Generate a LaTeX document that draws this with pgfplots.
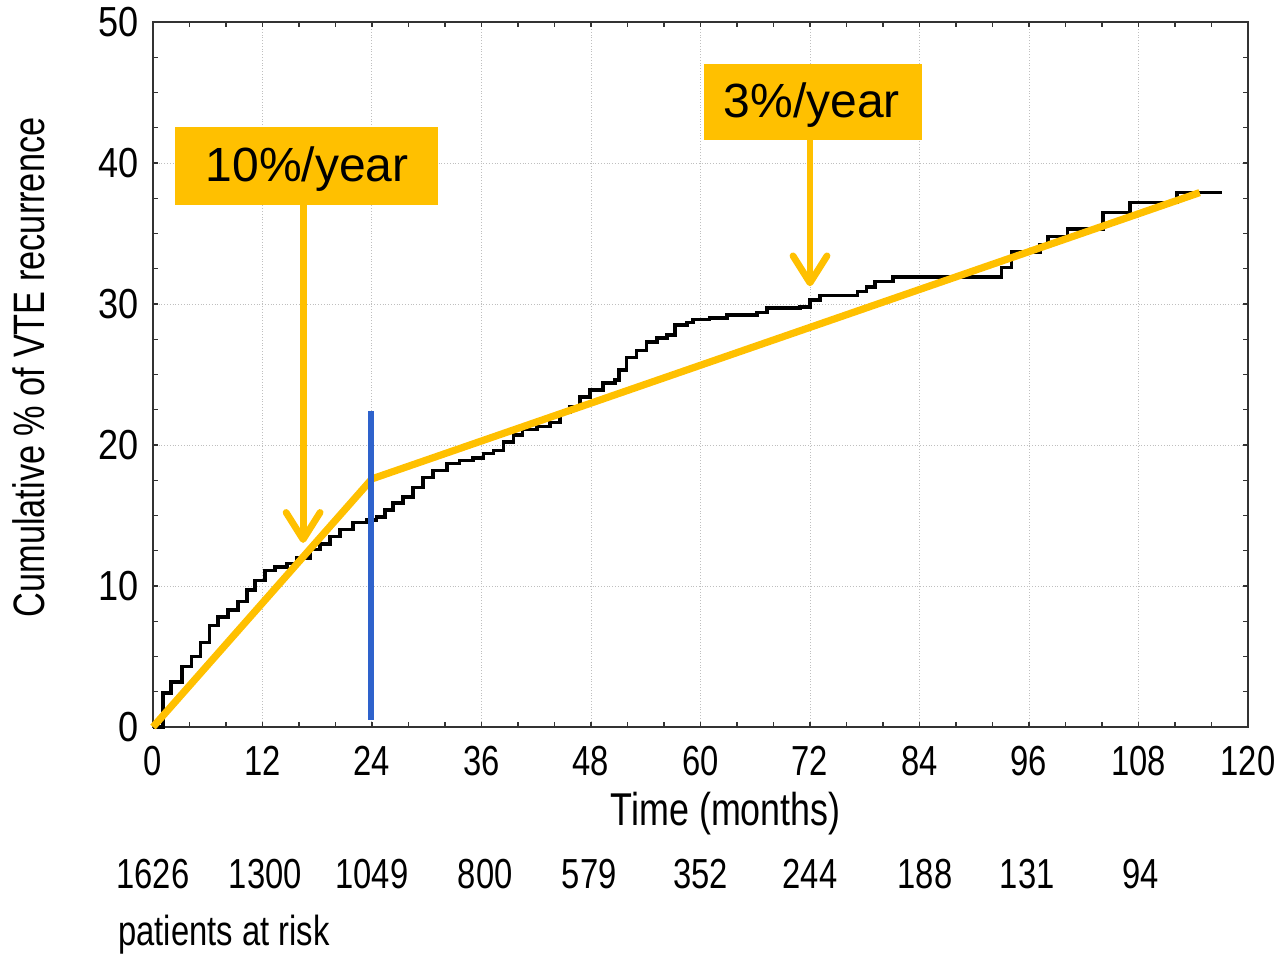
\documentclass[border=0pt]{standalone}
\usepackage{pgfplots}
\pgfplotsset{compat=1.18}
\usepackage{pgfplotstable}
\usepackage{fontspec}
\setmainfont[FakeStretch=0.78]{Liberation Sans}
\newfontfamily\boxfont{Liberation Sans}
\newfontfamily\yfont[FakeStretch=0.86]{Liberation Sans}
\definecolor{gold}{RGB}{255,192,0}
\definecolor{vblue}{RGB}{46,98,204}
\tikzset{riskstyle/.style={anchor=base, font=\fontsize{21}{24}\selectfont, yshift=-80.5pt}}

\pgfplotstableread{
m v
0 0
1.1 2.4
2.0 3.2
3.2 4.3
4.2 5.0
5.2 6.0
6.2 7.2
7.1 7.8
8.2 8.3
9.3 8.9
10.3 9.7
11.2 10.4
12.3 11.1
13.4 11.35
14.7 11.6
15.8 12.0
17.2 12.6
18.3 13.0
19.4 13.5
20.5 14.0
21.9 14.5
23.4 14.7
24.5 14.9
25.4 15.4
26.3 15.9
27.4 16.3
28.5 17.0
29.6 17.7
30.7 18.2
32.2 18.7
33.6 18.9
35.1 19.1
36.2 19.4
37.3 19.6
38.4 20.2
39.5 20.7
40.5 21.1
42.1 21.3
43.5 21.6
44.6 22.3
45.7 22.7
46.8 23.4
47.9 23.9
49.3 24.4
50.6 24.6
51.1 25.3
51.9 26.2
53.0 26.7
54.1 27.3
55.2 27.6
56.3 27.8
57.2 28.5
58.5 28.7
59.2 28.9
61.0 29.0
62.9 29.2
66.2 29.4
67.3 29.7
70.9 29.8
72.0 30.3
73.1 30.6
77.2 30.9
78.2 31.2
79.1 31.6
81.1 31.9
93.0 32.6
94.1 33.7
97.2 34.2
98.1 34.8
100.2 35.3
104.1 36.5
107.1 37.2
112.2 37.9
117.2 37.9
}\kmdata

\pgfplotstableread{
m v
0 0
24 17.6
114.7 37.9
}\fitdata

\begin{document}
\begin{tikzpicture}
\begin{axis}[
  width=547.5pt, height=352.5pt, scale only axis,
  xmin=0, xmax=120, ymin=0, ymax=50,
  xtick={0,12,...,120}, ytick={0,10,...,50},
  minor x tick num=2, minor y tick num=3,
  tick align=inside, major tick length=2.5pt, minor tick length=2.5pt,
  xtick pos=both, ytick pos=both,
  grid=major,
  major grid style={densely dotted, gray!50, line width=0.5pt},
  axis line style={line width=0.7pt, black!80},
  tick style={black!80, line width=0.6pt},
  clip=false,
  /pgf/number format/assume math mode=true,
  xticklabel style={font=\fontsize{21}{24}\selectfont, yshift=-6pt},
  yticklabel style={font=\yfont\fontsize{21}{24}\selectfont, xshift=-3.5pt},
]
\addplot[const plot mark left, black, line width=1.8pt, line join=miter] table[x=m,y=v] {\kmdata};
\addplot[gold, line width=3.6pt, line join=miter] table[x=m,y=v] {\fitdata};
\addplot[vblue, line width=3pt] coordinates {(23.9,0.5) (23.9,22.4)};

% labels
\node[rotate=90, anchor=base, font=\fontsize{22}{26}\selectfont] at ([xshift=-54pt]axis description cs:0,0.51) {Cumulative \% of VTE recurrence};
\node[anchor=base, font=\fontsize{23}{26}\selectfont] at ([yshift=-49pt]axis description cs:0.523,0) {Time (months)};

% at risk
\node[riskstyle] at (axis cs:0,0) {1626};
\node[riskstyle] at (axis cs:12.3,0) {1300};
\node[riskstyle] at (axis cs:24,0) {1049};
\node[riskstyle] at (axis cs:36.4,0) {800};
\node[riskstyle] at (axis cs:47.8,0) {579};
\node[riskstyle] at (axis cs:60,0) {352};
\node[riskstyle] at (axis cs:72,0) {244};
\node[riskstyle] at (axis cs:84.6,0) {188};
\node[riskstyle] at (axis cs:95.8,0) {131};
\node[riskstyle] at (axis cs:108.2,0) {94};
\node[anchor=base west, font=\fontsize{21}{24}\selectfont, inner sep=0pt] at ([xshift=-17.5pt, yshift=-109pt]axis cs:0,0) {patients at risk};

% boxes
\fill[gold] (axis cs:2.4,37.0) rectangle (axis cs:31.2,42.55);
\node[font=\boxfont\fontsize{24}{28}\selectfont] at (axis cs:16.9,39.6) {10\%/year};
\fill[gold] (axis cs:60.4,41.6) rectangle (axis cs:84.3,47.0);
\node[font=\boxfont\fontsize{24}{28}\selectfont] at (axis cs:72.2,44.1) {3\%/year};

% arrows
\draw[gold, line width=3.4pt] (axis cs:16.45,37.0) -- (axis cs:16.45,13.6);
\draw[gold, line width=3.4pt, line cap=round, line join=round] ([shift={(-8.5pt,13.5pt)}]axis cs:16.45,13.3) -- (axis cs:16.45,13.3) -- ([shift={(8.5pt,13.5pt)}]axis cs:16.45,13.3);
\draw[gold, line width=3.4pt] (axis cs:72.0,41.6) -- (axis cs:72.0,31.8);
\draw[gold, line width=3.4pt, line cap=round, line join=round] ([shift={(-8.5pt,13.5pt)}]axis cs:72.0,31.5) -- (axis cs:72.0,31.5) -- ([shift={(8.5pt,13.5pt)}]axis cs:72.0,31.5);
\end{axis}
\pgfresetboundingbox
\path[use as bounding box] ([shift={(-76.5pt,-114pt)}]current axis.south west) rectangle ++(640.5pt,477.5pt);
\end{tikzpicture}
\end{document}
